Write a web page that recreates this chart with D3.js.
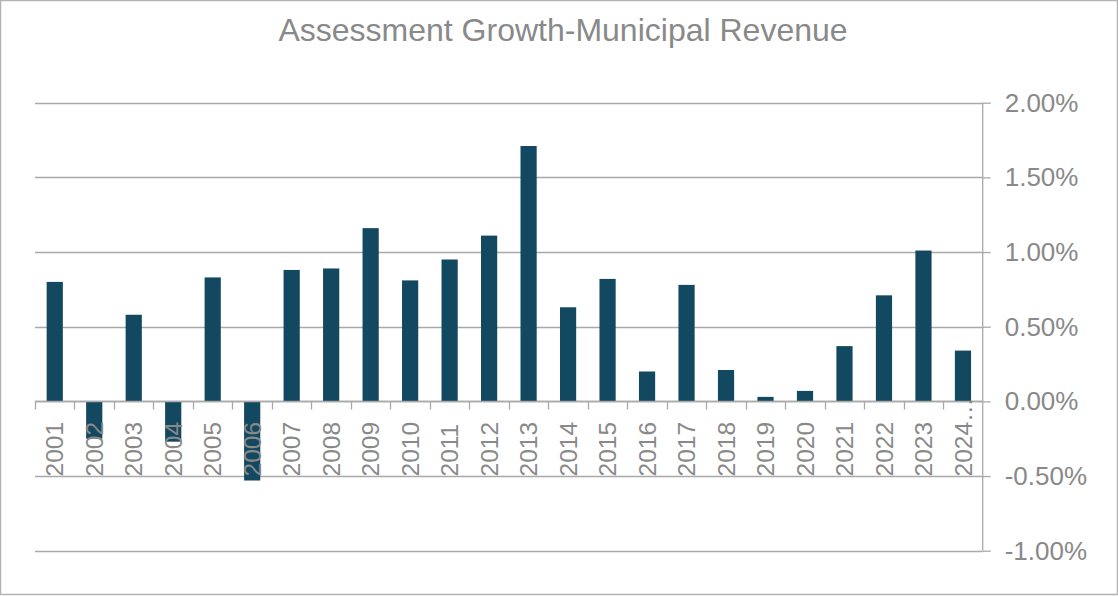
<!DOCTYPE html>
<html>
<head>
<meta charset="utf-8">
<script src="https://cdn.jsdelivr.net/npm/d3@7"></script>
<style>
  body { margin: 0; background: #fff; }
  text { font-family: "Liberation Sans", Arial, sans-serif; fill: #898989; }
</style>
</head>
<body>
<div id="svg"></div>
<script>
var width = 1118,
    height = 596;

// chart data
var years = ["2001", "2002", "2003", "2004", "2005", "2006", "2007", "2008", "2009", "2010",
    "2011", "2012", "2013", "2014", "2015", "2016", "2017", "2018", "2019", "2020",
    "2021", "2022", "2023", "2024…"];
var growth = [0.0080, -0.0025, 0.0058, -0.0027, 0.0083, -0.0053, 0.0088, 0.0089, 0.0116, 0.0081,
    0.0095, 0.0111, 0.0171, 0.0063, 0.0082, 0.0020, 0.0078, 0.0021, 0.0003, 0.0007,
    0.0037, 0.0071, 0.0101, 0.0034];
var yTicks = [-0.01, -0.005, 0, 0.005, 0.01, 0.015, 0.02];

var barColor = "#124860";
var gridColor = "#a9a9a9";

var svg = d3.select("#svg").append("svg")
    .attr("width", width)
    .attr("height", height);

// outer frame
svg.append("rect")
    .attr("x", 0.5)
    .attr("y", 0.5)
    .attr("width", width - 1)
    .attr("height", height - 2)
    .attr("fill", "#fff")
    .attr("stroke", "#b3b3b3")
    .attr("stroke-width", 1.5);

svg.append("text")
    .attr("x", 563)
    .attr("y", 41)
    .attr("text-anchor", "middle")
    .style("font-size", "32px")
    .text("Assessment Growth-Municipal Revenue");

var x = d3.scaleBand()
    .domain(years)
    .range([35, 982.7])
    .padding(0);

var y = d3.scaleLinear()
    .domain([-0.01, 0.02])
    .range([550.7, 102.7]);

// gridlines
svg.append("g")
    .selectAll("line")
    .data(yTicks)
    .enter().append("line")
    .attr("x1", 35)
    .attr("x2", 982.7)
    .attr("y1", d => Math.round(y(d)) + 0.5)
    .attr("y2", d => Math.round(y(d)) + 0.5)
    .attr("stroke", gridColor)
    .attr("stroke-width", 1.3);

// bars
var bw = x.step() * 0.41;
svg.append("g")
    .selectAll("rect")
    .data(growth)
    .enter().append("rect")
    .attr("x", (d, i) => x(years[i]) + x.step() / 2 - bw / 2)
    .attr("y", d => y(Math.max(0, d)))
    .attr("width", bw)
    .attr("height", d => Math.abs(y(d) - y(0)))
    .attr("fill", barColor);

// x axis
var xAxis = svg.append("g")
    .attr("transform", "translate(0," + (Math.round(y(0)) + 0.5) + ")");
xAxis.append("line")
    .attr("x1", 35).attr("x2", 982.7)
    .attr("stroke", gridColor).attr("stroke-width", 1.3);
xAxis.selectAll(".tk")
    .data(years)
    .enter().append("line")
    .attr("class", "tk")
    .attr("x1", d => Math.round(x(d)) + 0.5)
    .attr("x2", d => Math.round(x(d)) + 0.5)
    .attr("y1", 0).attr("y2", 8)
    .attr("stroke", gridColor).attr("stroke-width", 1.3);
xAxis.selectAll("text")
    .data(years)
    .enter().append("text")
    .attr("transform", d => "translate(" + (x(d) + x.step() / 2) + "," + (476 - Math.round(y(0))) + ") rotate(-90)")
    .attr("dy", "0.35em")
    .attr("text-anchor", "start")
    .style("font-size", "24.5px")
    .text(d => d);

// right y axis
var yAxis = svg.append("g")
    .attr("transform", "translate(982.7,0)")
    .call(d3.axisRight(y).tickValues(yTicks).tickSize(8).tickPadding(14)
        .tickFormat(d => (d * 100).toFixed(2) + "%"));
yAxis.selectAll("path, line").attr("stroke", gridColor).attr("stroke-width", 1.3);
yAxis.select(".domain").attr("d", "M0," + y(0.02) + "V" + y(-0.01));
yAxis.selectAll("text")
    .attr("fill", "#898989")
    .style("font-family", "Liberation Sans, Arial, sans-serif")
    .style("font-size", "26px");
</script>
</body>
</html>
